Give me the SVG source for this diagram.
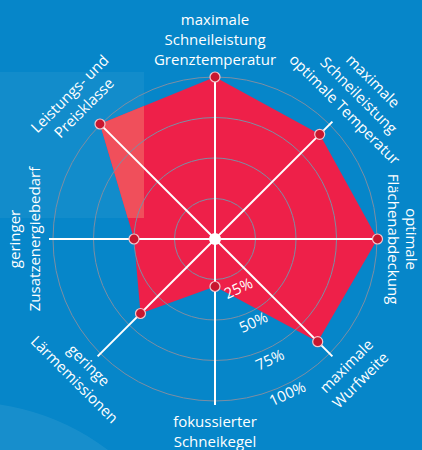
<svg xmlns="http://www.w3.org/2000/svg" width="422" height="450" viewBox="0 0 422 450">
  <defs>
    <style>
      .lbl { font-family: "Open Sans", "Liberation Sans", sans-serif; font-size: 15px; fill: #ffffff; text-anchor: middle; }
      .ring { fill: none; stroke: #7d8ea3; stroke-width: 1; }
      .axis { stroke: #ffffff; stroke-width: 2; }
      .dot { fill: #c8172f; stroke: #f4c6cc; stroke-width: 1.2; }
    </style>
    <clipPath id="ovclip"><rect x="0" y="72" width="144" height="146"/></clipPath>
  </defs>
  <rect x="0" y="0" width="422" height="450" fill="#0686c9"/>
  <circle cx="-35" cy="639" r="237" fill="#ffffff" fill-opacity="0.07"/>

  <g id="values">
    <polygon points="215,77 319.7,134.3 377.5,239 317.7,341.7 215,286.5 140.5,313.5 134,239 100,124" fill="#ee2049"/>
    <rect x="0" y="72" width="144" height="146" fill="#ffffff" fill-opacity="0.05"/>
    <polygon clip-path="url(#ovclip)" points="215,77 319.7,134.3 377.5,239 317.7,341.7 215,286.5 140.5,313.5 134,239 100,124" fill="#f04f5b"/>
  </g>

  <g id="rings">
    <circle class="ring" cx="215" cy="239" r="40.5"/>
    <circle class="ring" cx="215" cy="239" r="81"/>
    <circle class="ring" cx="215" cy="239" r="121.5"/>
    <circle class="ring" cx="215" cy="239" r="162"/>
  </g>

  <g id="connectors">
    <line class="axis" x1="215" y1="239" x2="215" y2="73"/>
    <line class="axis" x1="215" y1="239" x2="332.4" y2="121.6"/>
    <line class="axis" x1="215" y1="239" x2="381" y2="239"/>
    <line class="axis" x1="215" y1="239" x2="332.4" y2="356.4"/>
    <line class="axis" x1="215" y1="239" x2="215" y2="405"/>
    <line class="axis" x1="215" y1="239" x2="97.6" y2="356.4"/>
    <line class="axis" x1="215" y1="239" x2="49" y2="239"/>
    <line class="axis" x1="215" y1="239" x2="97.6" y2="121.6"/>
  </g>

  <g id="center"><circle cx="215" cy="239" r="6" fill="#ffffff"/></g>

  <g id="scale">
    <text class="lbl" transform="translate(238.5,288.5) rotate(-25)" y="5">25%</text>
    <text class="lbl" transform="translate(253.5,322.5) rotate(-25)" y="5">50%</text>
    <text class="lbl" transform="translate(270,360) rotate(-25)" y="5">75%</text>
    <text class="lbl" transform="translate(287.5,394) rotate(-25)" y="5">100%</text>
  </g>

  <g id="n-grenztemperatur">
    <circle class="dot" cx="215" cy="77" r="5"/>
    <text class="lbl" x="215" y="25">maximale</text>
    <text class="lbl" x="215" y="45">Schneileistung</text>
    <text class="lbl" x="215" y="65">Grenztemperatur</text>
  </g>

  <g id="n-optimale-temperatur">
    <circle class="dot" cx="319.7" cy="134.3" r="5"/>
    <g transform="translate(340.9,113.1) rotate(45)">
      <text class="lbl" y="-40">maximale</text>
      <text class="lbl" y="-20">Schneileistung</text>
      <text class="lbl" y="0">optimale Temperatur</text>
    </g>
  </g>

  <g id="n-flaechenabdeckung">
    <circle class="dot" cx="377.5" cy="239" r="5"/>
    <g transform="translate(387.5,239) rotate(90)">
      <text class="lbl" y="-18">optimale</text>
      <text class="lbl" y="0">Flächenabdeckung</text>
    </g>
  </g>

  <g id="n-wurfweite">
    <circle class="dot" cx="317.7" cy="341.7" r="5"/>
    <g transform="translate(347.9,371.9) rotate(-45)">
      <text class="lbl" x="3" y="0">maximale</text>
      <text class="lbl" x="3" y="20">Wurfweite</text>
    </g>
  </g>

  <g id="n-schneikegel">
    <circle class="dot" cx="215" cy="286.5" r="5"/>
    <text class="lbl" x="215" y="427">fokussierter</text>
    <text class="lbl" x="215" y="447">Schneikegel</text>
  </g>

  <g id="n-laermemissionen">
    <circle class="dot" cx="140.5" cy="313.5" r="5"/>
    <g transform="translate(84.9,369.1) rotate(45)">
      <text class="lbl" y="0">geringe</text>
      <text class="lbl" y="20">Lärmemissionen</text>
    </g>
  </g>

  <g id="n-zusatzenergiebedarf">
    <circle class="dot" cx="134" cy="239" r="5"/>
    <g transform="translate(40,239) rotate(-90)">
      <text class="lbl" y="-20">geringer</text>
      <text class="lbl" y="0">Zusatzenergiebedarf</text>
    </g>
  </g>

  <g id="n-preisklasse">
    <circle class="dot" cx="100" cy="124" r="5"/>
    <g transform="translate(87.7,111.7) rotate(-45)">
      <text class="lbl" y="-20">Leistungs- und</text>
      <text class="lbl" y="0">Preisklasse</text>
    </g>
  </g>
</svg>
